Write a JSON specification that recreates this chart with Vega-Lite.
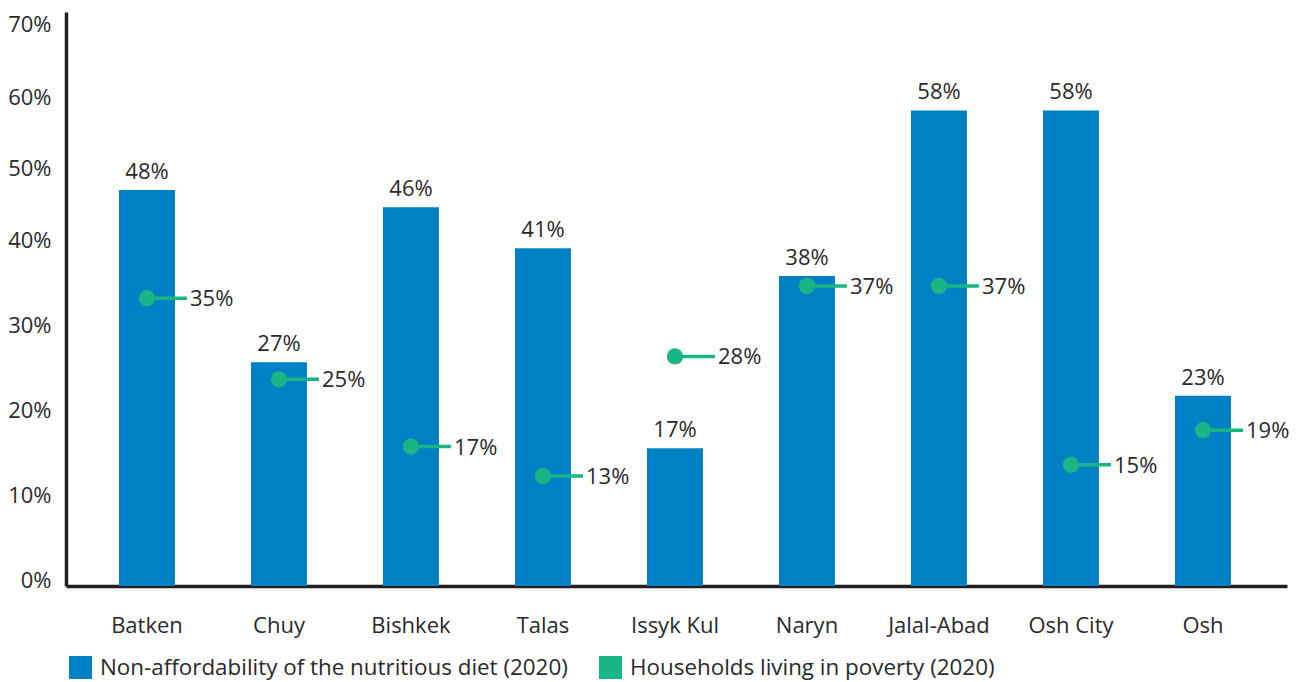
{
  "$schema": "https://vega.github.io/schema/vega-lite/v6.json",
  "width": 1221,
  "height": 574,
  "autosize": {"type": "none"},
  "padding": {"left": 66, "top": 12, "right": 14, "bottom": 96},
  "background": "white",
  "config": {
    "view": {"stroke": null},
    "font": "Open Sans",
    "text": {"font": "Open Sans", "fontSize": 22, "color": "#2a2a2a"}
  },
  "data": {
    "values": [
      {"region": "Batken", "diet": 0.483, "poverty": 0.351},
      {"region": "Chuy", "diet": 0.273, "poverty": 0.252},
      {"region": "Bishkek", "diet": 0.462, "poverty": 0.17},
      {"region": "Talas", "diet": 0.412, "poverty": 0.134},
      {"region": "Issyk Kul", "diet": 0.168, "poverty": 0.28},
      {"region": "Naryn", "diet": 0.378, "poverty": 0.366},
      {"region": "Jalal-Abad", "diet": 0.58, "poverty": 0.366},
      {"region": "Osh City", "diet": 0.58, "poverty": 0.148},
      {"region": "Osh", "diet": 0.232, "poverty": 0.19}
    ]
  },
  "encoding": {
    "x": {
      "field": "region",
      "type": "nominal",
      "sort": null,
      "scale": {"paddingInner": 0.576, "paddingOuter": 0.413, "align": 0.486},
      "axis": {
        "title": null,
        "labelAngle": 0,
        "ticks": false,
        "domainColor": "#231f20",
        "domainWidth": 3.5,
        "labelFont": "Open Sans",
        "labelFontSize": 22,
        "labelColor": "#2a2a2a",
        "labelPadding": 29,
        "labelBaseline": "top"
      }
    }
  },
  "layer": [
    {
      "mark": {"type": "bar"},
      "encoding": {
        "y": {
          "field": "diet",
          "type": "quantitative",
          "scale": {"domain": [0, 0.7], "nice": false, "zero": true},
          "axis": {
            "title": null,
            "values": [0, 0.1, 0.2, 0.3, 0.4, 0.5, 0.6, 0.7],
            "format": ".0%",
            "grid": false,
            "ticks": false,
            "domainColor": "#231f20",
            "domainWidth": 3.5,
            "labelFont": "Open Sans",
            "labelFontSize": 22,
            "labelColor": "#2a2a2a",
            "labelPadding": 15,
            "labelOffset": {
              "condition": [
                {"test": "datum.value < 0.05", "value": -6},
                {"test": "datum.value < 0.15", "value": -9},
                {"test": "datum.value < 0.25", "value": -12},
                {"test": "datum.value < 0.35", "value": -15},
                {"test": "datum.value < 0.45", "value": -18},
                {"test": "datum.value < 0.55", "value": -8},
                {"test": "datum.value < 0.65", "value": 3}
              ],
              "value": 12
            }
          }
        },
        "color": {
          "datum": "Non-affordability of the nutritious diet (2020)",
          "type": "nominal",
          "scale": {
            "domain": ["Non-affordability of the nutritious diet (2020)", "Households living in poverty (2020)"],
            "range": ["#0081c6", "#1ab584"]
          },
          "legend": {
            "title": null,
            "orient": "none",
            "legendX": 3,
            "legendY": 644,
            "direction": "horizontal",
            "symbolType": "square",
            "symbolSize": 529,
            "symbolStrokeWidth": 0,
            "labelFont": "Open Sans",
            "labelFontSize": 22.4,
            "labelColor": "#2a2a2a",
            "labelLimit": 0,
            "labelOffset": 8,
            "columnPadding": 31,
            "padding": 0
          }
        }
      }
    },
    {
      "mark": {"type": "text", "align": "center", "baseline": "alphabetic", "dy": -11},
      "encoding": {
        "y": {"field": "diet", "type": "quantitative"},
        "text": {"field": "diet", "type": "quantitative", "format": ".0%"}
      }
    },
    {
      "mark": {"type": "rule", "x2Offset": 40, "strokeWidth": 3.5, "color": "#1ab584"},
      "encoding": {
        "x2": {"field": "region"},
        "y": {"field": "poverty", "type": "quantitative"}
      }
    },
    {
      "mark": {"type": "circle", "size": 265, "opacity": 1},
      "encoding": {
        "y": {"field": "poverty", "type": "quantitative"},
        "color": {"datum": "Households living in poverty (2020)", "type": "nominal"}
      }
    },
    {
      "mark": {"type": "text", "align": "left", "baseline": "alphabetic", "dx": 43, "dy": 8},
      "encoding": {
        "y": {"field": "poverty", "type": "quantitative"},
        "text": {"field": "poverty", "type": "quantitative", "format": ".0%"}
      }
    }
  ]
}
